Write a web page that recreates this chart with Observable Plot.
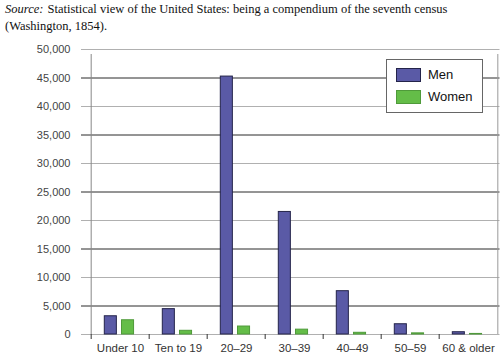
<!DOCTYPE html>
<html>
<head>
<meta charset="utf-8">
<script src="https://cdn.jsdelivr.net/npm/d3@7"></script>
<script src="https://cdn.jsdelivr.net/npm/@observablehq/plot@0.6"></script>
<style>
  html, body { margin: 0; padding: 0; background: #fff; }
  #wrap { position: relative; width: 504px; height: 355px; overflow: hidden; }
  #title { font-family: "Liberation Serif", "DejaVu Serif", serif; font-size: 12.5px; line-height: 17px; color: #111; padding: 1px 0 0 5px; height: 35px; }
  #title div { white-space: nowrap; }
  #title i { padding-right: 1px; }
  #legend { position: absolute; left: 386px; top: 59px; width: 97px; height: 54px; background: #fff; border: 1px solid #666; box-sizing: border-box; font-family: "Liberation Sans", Arial, sans-serif; font-size: 13px; color: #111; }
  .item { position: absolute; left: 9px; display: flex; align-items: center; }
  .sw { width: 25px; height: 14px; box-sizing: border-box; margin-right: 7px; }
</style>
</head>
<body>
<div id="wrap">
  <div id="title">
    <div><i>Source:</i><span> Statistical view of the United States: being a compendium of the seventh census</span></div>
    <div>(Washington, 1854).</div>
  </div>
  <div id="chart"></div>
  <div id="legend"></div>
</div>
<script>
const categories = ["Under 10", "Ten to 19", "20–29", "30–39", "40–49", "50–59", "60 & older"];
const men = [3200, 4450, 45250, 21500, 7600, 1800, 400];
const women = [2500, 650, 1400, 850, 300, 200, 100];
const series = ["Men", "Women"];
const yTicks = [0, 5000, 10000, 15000, 20000, 25000, 30000, 35000, 40000, 45000, 50000];

const colors = { Men: "#5a5aa6", Women: "#64bd48" };
const strokes = { Men: "#24244a", Women: "#4f9a3a" };

const W = 504, H = 320, mL = 89, mR = 4.5, mT = 13, mB = 22;
const step = (W - mL - mR) / categories.length;

const rows = [];
categories.forEach((c, i) => {
  rows.push({ age: c, sex: "Men", value: men[i] });
  rows.push({ age: c, sex: "Women", value: women[i] });
});

const darkTicks = yTicks.filter(t => (t / 5000) % 2 === 1);
const lightTicks = yTicks.filter(t => (t / 5000) % 2 === 0);

const chart = Plot.plot({
  width: W, height: H,
  marginTop: mT, marginBottom: mB, marginLeft: mL, marginRight: mR,
  x: { domain: categories, padding: 0, axis: null, label: null },
  y: { domain: [0, 50000], axis: null, label: null },
  style: { fontFamily: "'Liberation Sans', Arial, sans-serif", fontSize: "11px", color: "#333", background: "white" },
  marks: [
    Plot.ruleY(lightTicks, { y: d => d, stroke: "#b0b0b0", insetLeft: -8 }),
    Plot.ruleY(darkTicks, { y: d => d, stroke: "#2a2a2a", insetLeft: -8 }),
    Plot.ruleX([categories[0]], { x: d => d, dx: -step / 2, y1: 0, y2: 50000, stroke: "#888", insetBottom: -5 }),
    Plot.ruleX([categories[categories.length - 1]], { x: d => d, dx: step / 2, y1: 0, y2: 50000, stroke: "#999", insetBottom: -5 }),
    Plot.axisX({ tickSize: 5, tickFormat: () => "", dx: -step / 2, stroke: "#333", label: null }),
    Plot.axisX({ tickSize: 0, tickPadding: 9, fill: "#333", fontSize: 11.5, label: null }),
    Plot.axisY({ ticks: yTicks, tickSize: 0, tickPadding: 19, tickFormat: d3.format(","), fill: "#444", label: null }),
    Plot.barY(rows.filter(d => d.sex === "Men"), { x: "age", y: "value", fill: colors.Men, stroke: strokes.Men, strokeWidth: 1, insetLeft: 13.3, insetRight: step - 26 }),
    Plot.barY(rows.filter(d => d.sex === "Women"), { x: "age", y: "value", fill: colors.Women, stroke: strokes.Women, strokeWidth: 1, insetLeft: 30.5, insetRight: step - 43.2 })
  ]
});
document.getElementById("chart").appendChild(chart);

const legend = document.getElementById("legend");
series.forEach((s, i) => {
  const it = document.createElement("div");
  it.className = "item";
  it.style.top = (7 + i * 22) + "px";
  const sw = document.createElement("div");
  sw.className = "sw";
  sw.style.background = colors[s];
  sw.style.border = "1px solid " + strokes[s];
  const tx = document.createElement("span");
  tx.textContent = s;
  it.appendChild(sw);
  it.appendChild(tx);
  legend.appendChild(it);
});
</script>
</body>
</html>
